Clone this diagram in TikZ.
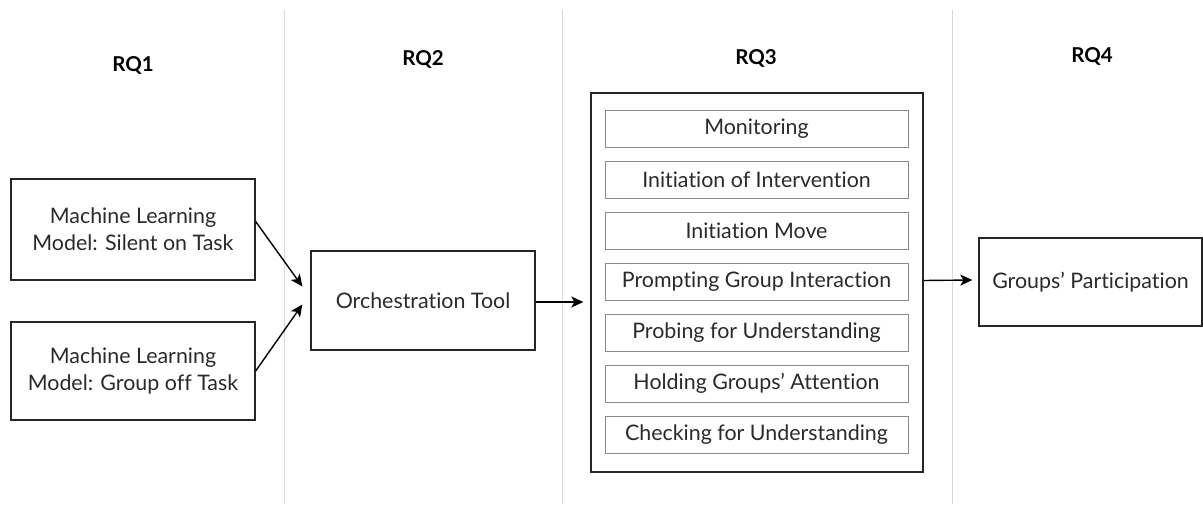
\documentclass[tikz,border=0pt]{standalone}
\usepackage{fontspec}
\setmainfont{Lato}[Ligatures={NoCommon,NoContextual}]
\usetikzlibrary{arrows.meta}
\definecolor{sep}{HTML}{D9D9D9}
\definecolor{inner}{HTML}{8A8A8A}
\definecolor{txt}{HTML}{2A2A2A}
\begin{document}
\begin{tikzpicture}[x=1pt,y=-1pt,
  box/.style={draw=black!85,line width=1.3pt,rectangle,align=center,text=txt,font=\fontsize{21.4}{27}\selectfont,inner sep=0pt},
  subbox/.style={draw=inner,line width=1pt,rectangle,text=txt,font=\fontsize{21.4}{27}\selectfont,minimum width=303pt,minimum height=37pt,inner sep=0pt},
  rq/.style={font=\bfseries\fontsize{20.5}{24}\selectfont,text=black},
  arr/.style={-{Stealth[length=12pt,width=11pt,inset=3pt]},line width=1.4pt}]
\useasboundingbox (0,0) rectangle (1203,504);
\foreach \xx in {284,562,952} \draw[sep,line width=1pt] (\xx,10) -- (\xx,504);
\node[rq] (rq1) at (133,65) {RQ1};
\node[rq] (rq2) at (423,59) {RQ2};
\node[rq] (rq3) at (756,58) {RQ3};
\node[rq] (rq4) at (1092,56) {RQ4};
\node[box,minimum width=244pt,minimum height=101pt] (b1) at (133,229.5) {Machine Learning\\Model: Silent on Task};
\node[box,minimum width=244pt,minimum height=98pt] (b2) at (133,371) {Machine Learning\\Model: Group off Task};
\node[box,minimum width=224pt,minimum height=99pt] (orch) at (423,300.5) {Orchestration Tool};
\node[box,minimum width=332pt,minimum height=379pt] (outer) at (757,282.5) {};
\node[subbox] (s1) at (756.5,128.5) {Monitoring};
\node[subbox] (s2) at (756.5,179.5) {Initiation of Intervention};
\node[subbox] (s3) at (756.5,230.5) {Initiation Move};
\node[subbox] (s4) at (756.5,281.5) {Prompting Group Interaction};
\node[subbox] (s5) at (756.5,332.5) {Probing for Understanding};
\node[subbox] (s6) at (756.5,383.5) {Holding Groups’ Attention};
\node[subbox] (s7) at (756.5,434.5) {Checking for Understanding};
\node[box,minimum width=223pt,minimum height=88pt] (gp) at (1090.5,282) {Groups’ Participation};
\draw[arr] ([yshift=8pt]b1.east) -- ([xshift=-8pt,yshift=14pt]orch.west);
\draw[arr] (b2.east) -- ([xshift=-8pt,yshift=-4pt]orch.west);
\draw[arr] ([yshift=-1.5pt]orch.east) -- ([xshift=-7pt,yshift=-19.5pt]outer.west);
\draw[arr] ([yshift=2pt]outer.east) -- ([xshift=-6pt,yshift=2pt]gp.west);
\end{tikzpicture}
\end{document}
